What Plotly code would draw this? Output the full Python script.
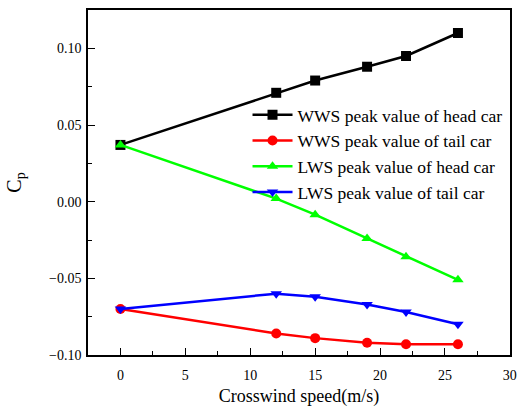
import plotly.graph_objects as go

speed = [0, 12, 15, 19, 22, 26]
wws_head = [0.037, 0.071, 0.079, 0.088, 0.095, 0.110]
wws_tail = [-0.070, -0.086, -0.089, -0.092, -0.093, -0.093]
lws_head = [0.037, 0.002, -0.0085, -0.024, -0.036, -0.051]
lws_tail = [-0.070, -0.060, -0.062, -0.067, -0.072, -0.080]

names = ["WWS peak value of head car", "WWS peak value of tail car",
         "LWS peak value of head car", "LWS peak value of tail car"]
series = [wws_head, wws_tail, lws_head, lws_tail]
colors = ["#000000", "#ff0000", "#00ff00", "#0000ff"]
symbols = ["square", "circle", "triangle-up", "triangle-down"]

font = "Liberation Serif, Times New Roman, serif"
fig = go.Figure()
for n, s, c, m in zip(names, series, colors, symbols):
    fig.add_trace(go.Scatter(x=speed, y=s, name=n, mode="lines+markers",
                             line=dict(color=c, width=2.5),
                             marker=dict(symbol=m, size=10, color=c)))

axis_common = dict(showline=True, linecolor="black", linewidth=1.5, mirror=True,
                   ticks="inside", ticklen=7, tickwidth=1.2, tickcolor="black",
                   showgrid=False, zeroline=False,
                   ticklabeloverflow="allow",
                   tickfont=dict(family=font, size=14, color="black"))
fig.update_xaxes(range=[-2.5, 30.01], dtick=5, tick0=0, ticklabelstandoff=6,
                 minor=dict(ticks="inside", ticklen=4, dtick=2.5, tick0=0, tickcolor="black"),
                 title=dict(text="Crosswind speed(m/s)", font=dict(family=font, size=18, color="black"), standoff=8),
                 **axis_common)
fig.update_yaxes(range=[-0.1, 0.125], dtick=0.05, tick0=0, tickformat=".2f", ticklabelstandoff=2,
                 minor=dict(ticks="inside", ticklen=4, dtick=0.025, tick0=0, tickcolor="black"),
                 title=dict(text="C<sub>p</sub>", font=dict(family=font, size=20, color="black"), standoff=22),
                 **axis_common)
fig.update_layout(width=520, height=410, margin=dict(l=88, r=3, t=10, b=55),
                  plot_bgcolor="white", paper_bgcolor="white",
                  font=dict(family=font, color="black"),
                  legend=dict(x=0.378, y=0.748, xanchor="left", yanchor="top",
                              bgcolor="rgba(0,0,0,0)", font=dict(family=font, size=17.5, color="black"),
                              itemwidth=40, tracegroupgap=0))
fig.write_html("out.html")
